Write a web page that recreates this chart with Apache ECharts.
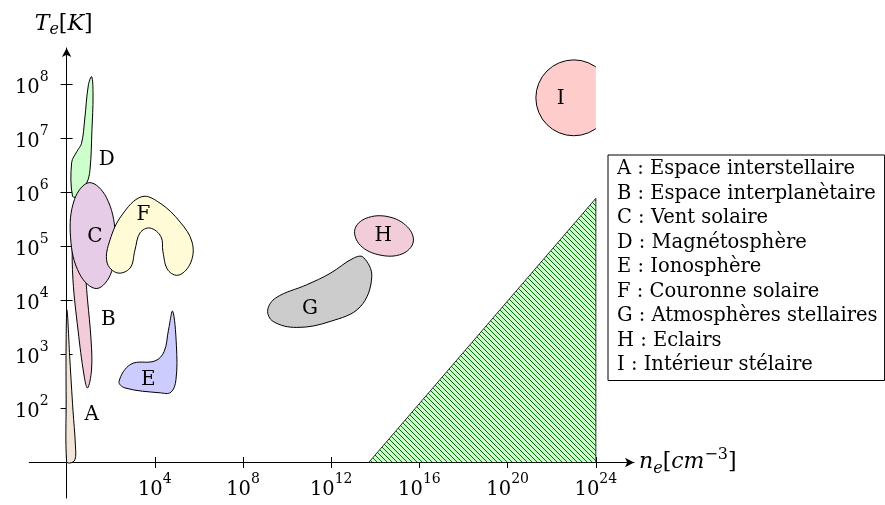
<!DOCTYPE html>
<html>
<head>
<meta charset="utf-8">
<script src="https://cdn.jsdelivr.net/npm/echarts@6.0.0/dist/echarts.min.js"></script>
<style>
html, body { margin: 0; padding: 0; background: #fff; }
#chart { width: 885px; height: 505px; }
</style>
</head>
<body>
<div id="chart"></div>
<script>
// all values are exponents: log10(n_e / cm^-3) , log10(T_e / K)
const xTicks = [4, 8, 12, 16, 20, 24];
const yTicks = [2, 3, 4, 5, 6, 7, 8];

const regionNames = [
    "A : Espace interstellaire",
    "B : Espace interplanètaire",
    "C : Vent solaire",
    "D : Magnétosphère",
    "E : Ionosphère",
    "F : Couronne solaire",
    "G : Atmosphères stellaires",
    "H : Eclairs",
    "I : Intérieur stélaire",
];
const regionLetters = ["A", "B", "C", "D", "E", "F", "G", "H", "I"];
const letterPos = [
    [1.14, 1.88], [1.89, 3.64], [1.29, 5.17], [1.82, 6.61], [3.71, 2.53],
    [3.48, 5.58], [11.04, 3.85], [14.36, 5.19], [22.41, 7.74],
];

// contours
const outlineA = [[0.02, 3.82], [0.15, 2.9], [0.29, 1.97], [0.4, 1.32], [0.38, 1.05], [0.15, 0.99], [0.0, 1.02], [-0.02, 2.16], [-0.02, 3.27]];
const outlineB = [[0.43, 5.86], [0.79, 4.75], [0.95, 4.01], [1.11, 3.27], [1.13, 2.71], [0.95, 2.38], [0.79, 2.62], [0.52, 3.45], [0.29, 4.38], [0.27, 5.12]];
const outlineC = [[1.03, 6.18], [1.8, 5.91], [2.21, 5.23], [2.04, 4.53], [1.37, 4.22], [0.59, 4.49], [0.18, 5.17], [0.36, 5.87]];
const outlineD = [[1.14, 8.14], [1.2, 7.8], [1.15, 7.15], [1.06, 6.41], [0.91, 6.17], [0.52, 5.93], [0.27, 5.93], [0.23, 6.55], [0.46, 6.75], [0.68, 6.91], [0.82, 7.34], [0.99, 7.99]];
const outlineE = [[4.81, 3.8], [4.98, 3.17], [4.96, 2.53], [4.73, 2.3], [4.24, 2.29], [2.65, 2.38], [2.38, 2.5], [2.92, 2.82], [4.01, 2.88], [4.42, 3.05], [4.62, 3.45]];
const outlineF = [[3.41, 5.92], [4.24, 5.8], [5.15, 5.45], [5.69, 5.08], [5.64, 4.71], [5.1, 4.47], [4.6, 4.56], [4.37, 4.9], [4.28, 5.18], [3.78, 5.34], [3.33, 5.25], [3.1, 4.93], [2.88, 4.6], [2.29, 4.51], [1.83, 4.71], [1.97, 5.12], [2.51, 5.58]];
const outlineG = [[9.12, 3.82], [9.5, 4.05], [10.89, 4.29], [11.95, 4.5], [13.0, 4.78], [13.45, 4.8], [13.84, 4.44], [13.31, 3.88], [11.95, 3.61], [10.44, 3.5], [9.37, 3.61]];
const outlineH = [[15.72, 5.08], [15.21, 4.86], [14.21, 4.84], [13.32, 5.02], [13.07, 5.31], [13.58, 5.52], [14.58, 5.55], [15.46, 5.36]];
const interiorCenter = [23.0, 7.75];
const interiorRadius = 1.72; // en décades de n_e
const interiorCut = 24;
const degenerate = [[13.7, 1], [24, 1], [24, 5.89]];

const SERIF = '"DejaVu Serif", serif';
const FS = 19.5;

const rich = {
    b: { fontFamily: SERIF, fontSize: FS, color: "#000", padding: [7, 0, 0, 0] },
    s: { fontFamily: SERIF, fontSize: 14, color: "#000", padding: [0, 0, 14, 0] },
    i: { fontFamily: SERIF, fontStyle: "italic", fontSize: 22, color: "#000" },
    r: { fontFamily: SERIF, fontSize: 22, color: "#000" },
    sub: { fontFamily: SERIF, fontStyle: "italic", fontSize: 16, color: "#000", padding: [12, 0, 0, 0] },
    sup: { fontFamily: SERIF, fontSize: 16, color: "#000", padding: [0, 0, 15, 0] },
};
const pow = (v) => "{b|10}{s|" + v + "}";

// hachures "north west lines"
function hatch() {
    const c = document.createElement("canvas");
    c.width = c.height = 5;
    const g = c.getContext("2d");
    g.fillStyle = "#ccffcc";
    g.fillRect(0, 0, 5, 5);
    g.strokeStyle = "#007000";
    g.lineWidth = 1;
    g.beginPath();
    g.moveTo(-1, -1); g.lineTo(6, 6);
    g.moveTo(-1, 4); g.lineTo(1, 6);
    g.moveTo(4, -1); g.lineTo(6, 1);
    g.stroke();
    return c;
}

function xAxis(main) {
    return {
        type: "value",
        min: -1.69,
        max: 25.73,
        position: "bottom",
        offset: -35.5,
        axisLine: {
            show: main,
            onZero: false,
            symbol: ["none", "arrow"],
            symbolSize: [7, 9],
            lineStyle: { color: "#000", width: 1 },
        },
        axisTick: { show: true, inside: !main, length: 5.5, customValues: xTicks, lineStyle: { color: "#000", width: 1 } },
        axisLabel: { show: main, customValues: xTicks, formatter: pow, margin: 10, rich: rich },
        splitLine: { show: false },
        name: main ? "{i|n}{sub|e}{r|[}{i|cm}{sup|−3}{r|]}" : "",
        nameLocation: "end",
        nameGap: 5,
        nameTextStyle: { rich: rich },
    };
}

function yAxis(main) {
    return {
        type: "value",
        min: 0.343,
        max: 8.672,
        position: "left",
        offset: -37.3,
        axisLine: {
            show: main,
            onZero: false,
            symbol: ["none", "arrow"],
            symbolSize: [7, 9],
            lineStyle: { color: "#000", width: 1 },
        },
        axisTick: { show: true, inside: !main, length: 6, customValues: yTicks, lineStyle: { color: "#000", width: 1 } },
        axisLabel: { show: main, customValues: yTicks, formatter: pow, margin: 18, rich: rich },
        splitLine: { show: false },
        name: main ? "{i|T}{sub|e}{r|[}{i|K}{r|]}" : "",
        nameLocation: "end",
        nameGap: 10,
        nameTextStyle: { rich: rich, padding: [0, 6, 0, 0] },
    };
}

function blob(name, points, color) {
    return {
        type: "custom",
        name: name,
        coordinateSystem: "cartesian2d",
        silent: true,
        data: points,
        renderItem: (params, api) => {
            if (params.dataIndex !== 0) return;
            return {
                type: "polygon",
                shape: { points: points.map((p) => api.coord(p)), smooth: 0.38 },
                style: { fill: color, stroke: "#000", lineWidth: 1 },
            };
        },
    };
}

const series = [
    {
        type: "custom",
        coordinateSystem: "cartesian2d",
        silent: true,
        data: degenerate,
        renderItem: (params, api) => {
            if (params.dataIndex !== 0) return;
            return {
                type: "polygon",
                shape: { points: degenerate.map((p) => api.coord(p)) },
                style: { fill: { image: hatch(), repeat: "repeat" }, stroke: "#000", lineWidth: 0.8 },
            };
        },
    },
    blob(regionNames[0], outlineA, "#f2e6d9"),
    blob(regionNames[1], outlineB, "#f2ccd9"),
    blob(regionNames[3], outlineD, "#ccffcc"),
    blob(regionNames[2], outlineC, "#e6cce6"),
    blob(regionNames[5], outlineF, "#fffbd6"),
    blob(regionNames[4], outlineE, "#ccccff"),
    blob(regionNames[6], outlineG, "#cccccc"),
    blob(regionNames[7], outlineH, "#f2ccd9"),
    {
        type: "custom",
        name: regionNames[8],
        coordinateSystem: "cartesian2d",
        silent: true,
        data: [interiorCenter],
        renderItem: (params, api) => {
            const c = api.coord(interiorCenter);
            const r = api.coord([interiorCenter[0] + interiorRadius, interiorCenter[1]])[0] - c[0];
            const cut = api.coord([interiorCut, interiorCenter[1]])[0];
            return {
                type: "circle",
                shape: { cx: c[0], cy: c[1], r: r },
                style: { fill: "#ffcccc", stroke: "#000", lineWidth: 1 },
                clipPath: {
                    type: "rect",
                    shape: { x: c[0] - r - 3, y: c[1] - r - 3, width: cut - (c[0] - r - 3), height: 2 * r + 6 },
                },
            };
        },
    },
    {
        type: "custom",
        coordinateSystem: "cartesian2d",
        silent: true,
        data: letterPos,
        renderItem: (params, api) => {
            const p = api.coord([api.value(0), api.value(1)]);
            return {
                type: "text",
                x: p[0],
                y: p[1],
                style: {
                    text: regionLetters[params.dataIndex],
                    fontFamily: SERIF,
                    fontSize: 20,
                    fill: "#000",
                    align: "center",
                    verticalAlign: "middle",
                },
            };
        },
    },
];

const chart = echarts.init(document.getElementById("chart"));
chart.setOption({
    backgroundColor: "#fff",
    animation: false,
    grid: { left: 29.3, right: 251, top: 48, bottom: 7, outerBoundsMode: "none" },
    xAxis: [xAxis(true), xAxis(false)],
    yAxis: [yAxis(true), yAxis(false)],
    legend: {
        data: regionNames,
        orient: "vertical",
        left: 608,
        top: 155,
        icon: "none",
        itemWidth: 0,
        itemHeight: 10,
        itemGap: 0,
        padding: [2, 7, 3, 4],
        borderColor: "#000",
        borderWidth: 1,
        borderRadius: 0,
        backgroundColor: "#fff",
        selectedMode: false,
        textStyle: { fontFamily: SERIF, fontSize: FS, color: "#000", lineHeight: 24.5 },
    },
    series: series,
});
</script>
</body>
</html>
